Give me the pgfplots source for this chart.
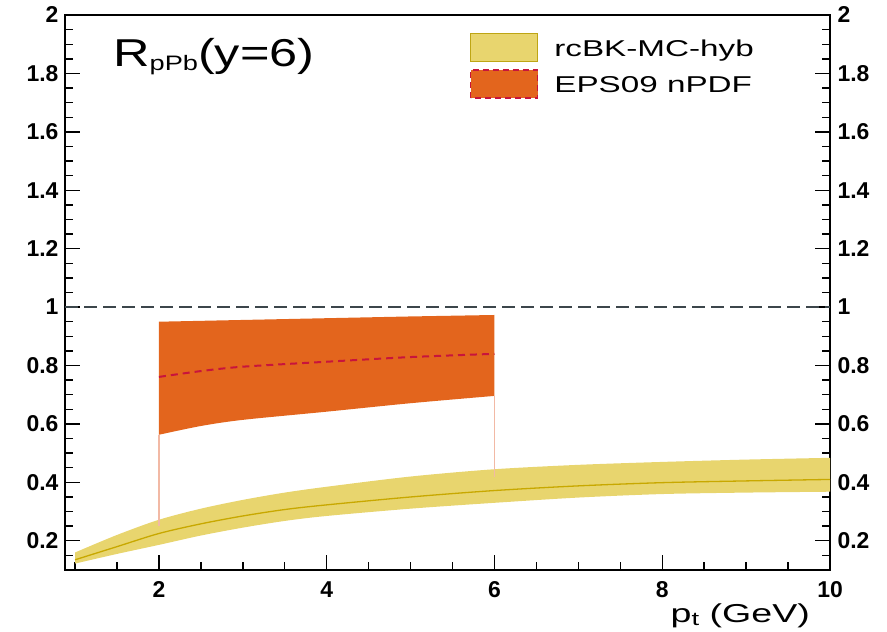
\documentclass[border=0pt]{standalone}
\usepackage{fontspec}
\setmainfont{Liberation Sans}
\newfontfamily\stretchfont[FakeStretch=1.3]{Liberation Sans}
\newfontfamily\widefont[FakeStretch=1.45]{Liberation Sans}
\usepackage{pgfplots}
\pgfplotsset{compat=1.18}
\usepgfplotslibrary{fillbetween}
\definecolor{bandyellow}{RGB}{232,213,110}
\definecolor{lineolive}{RGB}{200,168,0}
\definecolor{boxolive}{RGB}{190,165,20}
\definecolor{bandorange}{RGB}{227,101,29}
\definecolor{dashcrimson}{RGB}{200,20,60}
\definecolor{edgepink}{RGB}{242,185,165}
\definecolor{refgray}{RGB}{60,70,75}
\begin{document}
\begin{tikzpicture}
\begin{axis}[
  at={(0,0)}, anchor=south west,
  width=765bp, height=555bp, scale only axis,
  xmin=0.88, xmax=10, ymin=0.1, ymax=2,
  xtick={2,4,6,8,10},
  minor xtick={1,1.5,...,10},
  ytick={0.2,0.4,0.6,0.8,1,1.2,1.4,1.6,1.8,2},
  minor ytick={0.1,0.15,...,2},
  xtick pos=bottom, ytick pos=both,
  tick align=inside,
  major tick length=15bp, minor tick length=8bp,
  axis line style={line width=1.5bp},
  every tick/.style={black, line width=1.4bp},
  /pgf/number format/assume math mode=true,
  ticklabel style={font=\bfseries\fontsize{23}{23}\selectfont},
  xticklabel style={yshift=-8bp},
  yticklabel style={xshift=-3bp},
  legend image code/.code={\draw[#1] (0bp,-14bp) rectangle (67bp,14bp);},
  legend style={at={(0.529,0.968)}, anchor=north west, draw=none, fill=none,
    inner sep=0pt, row sep=7bp, font=\widefont\fontsize{23}{23}\selectfont,
    nodes={inner sep=0pt, text depth=0pt},
    /tikz/every odd column/.append style={column sep=16bp}},
  legend cell align=left,
]
\addlegendimage{fill=bandyellow, draw=boxolive, line width=1.5bp}
\addlegendentry{rcBK-MC-hyb}
\addlegendimage{fill=bandorange, draw=dashcrimson, dash pattern=on 6bp off 4bp, line width=1.5bp}
\addlegendentry{EPS09 nPDF}

% reference line at 1
\addplot[refgray, line width=1.8bp, dash pattern=on 13bp off 6bp, forget plot] coordinates {(0.88,1) (10,1)};

% EPS09 band edges (vertical)
\addplot[edgepink, line width=1.2bp, forget plot] coordinates {(2,0.25) (2,0.563)};
\addplot[edgepink, line width=1.2bp, forget plot] coordinates {(6,0.42) (6,0.696)};

% EPS09 band
\addplot[name path=eu, draw=none, forget plot] coordinates {
(2,0.950) (3,0.956) (4,0.962) (5,0.968) (6,0.973)};
\addplot[name path=el, draw=none, smooth, forget plot] coordinates {
(2,0.563) (2.5,0.593) (3,0.614) (4,0.642) (5,0.671) (6,0.696)};
\addplot[bandorange, forget plot] fill between[of=eu and el];
\addplot[dashcrimson, line width=2bp, dash pattern=on 7bp off 5bp, smooth, forget plot] coordinates {
(2,0.761) (2.5,0.781) (3,0.796) (4,0.813) (5,0.829) (6,0.840)};

% rcBK band
\addplot[name path=yu, draw=none, smooth, forget plot] coordinates {
(1,0.160) (1.5,0.220) (2,0.272) (2.5,0.310) (3,0.340) (3.5,0.365) (4,0.385)
(5,0.420) (6,0.445) (7,0.460) (8,0.470) (9,0.478) (10,0.484)};
\addplot[name path=yl, draw=none, smooth, forget plot] coordinates {
(1,0.122) (1.5,0.155) (2,0.186) (2.5,0.218) (3,0.245) (3.5,0.268) (4,0.285)
(5,0.310) (6,0.330) (7,0.348) (8,0.360) (9,0.365) (10,0.368)};
\addplot[bandyellow, forget plot] fill between[of=yu and yl];
\addplot[lineolive, line width=1.3bp, smooth, forget plot] coordinates {
(1,0.135) (1.5,0.180) (2,0.225) (2.5,0.258) (3,0.285) (3.5,0.307) (4,0.323)
(5,0.350) (6,0.372) (7,0.388) (8,0.399) (9,0.405) (10,0.410)};
\end{axis}
\begin{axis}[
  at={(0,0)}, anchor=south west,
  width=765bp, height=555bp, scale only axis,
  xmin=0.88, xmax=10, ymin=0.1, ymax=2,
  xtick=\empty,
  ytick={0.2,0.4,0.6,0.8,1,1.2,1.4,1.6,1.8,2},
  yticklabel pos=right,
  major tick length=0pt,
  axis line style={draw=none},
  /pgf/number format/assume math mode=true,
  ticklabel style={font=\bfseries\fontsize{23}{23}\selectfont},
  yticklabel style={xshift=4bp},
]
\addplot[draw=none] coordinates {(1,1) (2,1)};
\end{axis}
\node[anchor=base west, inner sep=0pt] at (48bp,503bp)
  {\stretchfont\fontsize{39}{39}\selectfont R\raisebox{-4bp}{\fontsize{21}{21}\selectfont pPb}(y=6)};
\node[anchor=base east, inner sep=0pt] at (745bp,-52bp)
  {\widefont\fontsize{26}{26}\selectfont p\raisebox{-3bp}{\fontsize{19}{19}\selectfont t} (GeV)};
\pgfresetboundingbox
\useasboundingbox (-65bp,-62bp) rectangle (822bp,570bp);
\end{tikzpicture}
\end{document}
